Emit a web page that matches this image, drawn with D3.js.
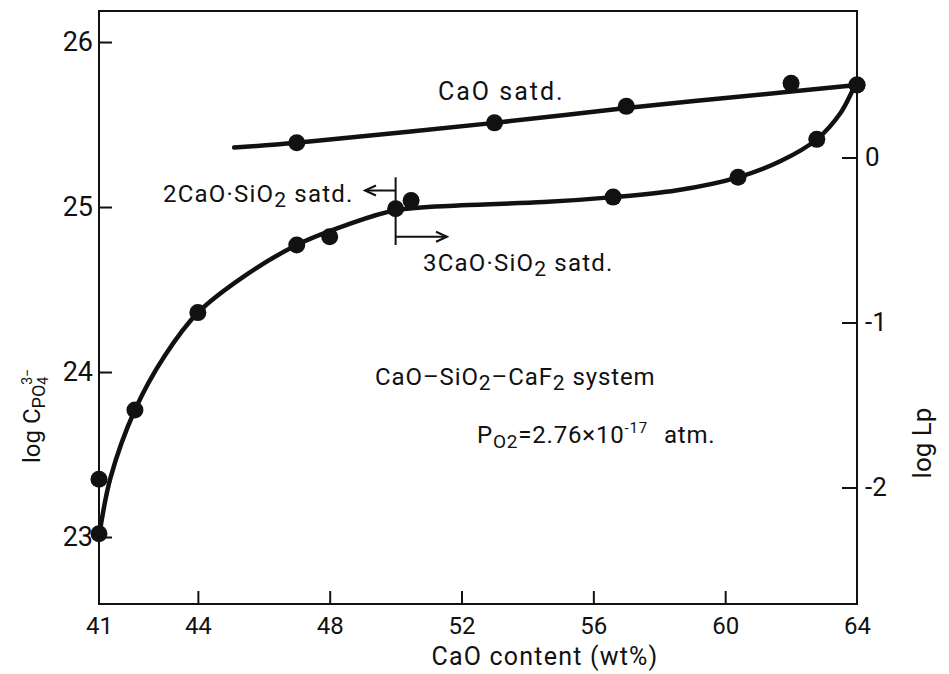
<!DOCTYPE html>
<html><head><meta charset="utf-8">
<script src="https://cdn.jsdelivr.net/npm/d3@7"></script>
<style>
body{margin:0;background:#fff}
text{font-family:Roboto,"Liberation Sans",sans-serif;fill:#111}
</style>
</head><body><svg id="c" width="949" height="674"></svg>
<script>
// ---- data ----
const xTicks = [41, 44, 48, 52, 56, 60, 64];
const leftTicks = [23, 24, 25, 26];
const rightTicks = [0, -1, -2];
const logLpOffset = 25.3; // log Lp = log C - offset

// CaO saturated series (points)
const caoSatdX = [47, 53, 57, 62, 64];
const caoSatdY = [25.39, 25.51, 25.61, 25.75, 25.74];
// CaO saturated fitted line
const caoSatdCurveX = [45.1, 47, 53, 57, 62, 64];
const caoSatdCurveY = [25.36, 25.39, 25.51, 25.60, 25.70, 25.74];

// lower series (2CaO.SiO2 / 3CaO.SiO2 saturated)
const lowerX = [41.0, 41.0, 42.09, 44.0, 47.0, 48.0, 50.0, 50.47, 56.6, 60.39, 62.78, 64];
const lowerY = [23.02, 23.35, 23.77, 24.36, 24.77, 24.82, 24.99, 25.04, 25.06, 25.18, 25.41, 25.74];
// lower fitted curve
const lowerCurveX = [41.0, 41.35, 42.09, 43.0, 44.0, 45.4, 47.0, 48.5, 50.0, 52.0, 54.5, 56.6, 58.5, 60.39, 61.7, 62.78, 63.5, 63.85, 64];
const lowerCurveY = [23.0, 23.36, 23.77, 24.1, 24.36, 24.58, 24.77, 24.89, 24.98, 25.01, 25.03, 25.06, 25.1, 25.18, 25.28, 25.41, 25.57, 25.7, 25.76];

// boundary annotation (x of boundary, y range, arrow levels and ends)
const boundaryX = 50;
const boundaryYRange = [24.77, 25.18];
const leftArrowY = 25.10, leftArrowEnd = 49.07;
const rightArrowY = 24.82, rightArrowEnd = 51.56;

// ---- layout ----
const L = 99, R = 857, T = 11, B = 604;
const yDom = [22.594, 26.188];
const x = d3.scaleLinear([41, 64], [L, R]);
const y = d3.scaleLinear(yDom, [B, T]);
const yR = d3.scaleLinear([yDom[0] - logLpOffset, yDom[1] - logLpOffset], [B, T]);

const svg = d3.select("#c");
const ink = "#111";

// frame
svg.append("rect").attr("x", L).attr("y", T).attr("width", R - L).attr("height", B - T)
  .attr("fill", "none").attr("stroke", ink).attr("stroke-width", 2);

// axes
const gx = svg.append("g").attr("transform", `translate(0,${B})`)
  .call(d3.axisBottom(x).tickValues(xTicks).tickSizeInner(-13).tickSizeOuter(0).tickPadding(13).tickFormat(d3.format("d")));
gx.selectAll("text").attr("font-size", 24);
const gl = svg.append("g").attr("transform", `translate(${L},0)`)
  .call(d3.axisLeft(y).tickValues(leftTicks).tickSizeInner(-13).tickSizeOuter(0).tickPadding(6).tickFormat(d3.format("d")));
gl.selectAll("text").attr("font-size", 27);
const gr = svg.append("g").attr("transform", `translate(${R},0)`)
  .call(d3.axisRight(yR).tickValues(rightTicks).tickSizeInner(-15).tickSizeOuter(0).tickPadding(8).tickFormat(d => d === 0 ? "0" : "-" + Math.abs(d)));
gr.selectAll("text").attr("font-size", 26);
[gx, gl, gr].forEach(g => {
  g.select(".domain").remove();
  g.selectAll(".tick line").attr("stroke", ink).attr("stroke-width", 2);
  g.selectAll("text").attr("fill", ink).attr("font-family", "Roboto, 'Liberation Sans', sans-serif");
});
gx.selectAll(".tick").filter(d => d === 41 || d === 64).select("line").remove();

// curves
const line = d3.line().x(d => x(d[0])).y(d => y(d[1])).curve(d3.curveCatmullRom.alpha(0.5));
svg.append("path").datum(caoSatdCurveX.map((v, i) => [v, caoSatdCurveY[i]]))
  .attr("d", line).attr("fill", "none").attr("stroke", ink).attr("stroke-width", 4.5).attr("stroke-linecap", "round");
svg.append("path").datum(lowerCurveX.map((v, i) => [v, lowerCurveY[i]]))
  .attr("d", line).attr("fill", "none").attr("stroke", ink).attr("stroke-width", 4.5).attr("stroke-linecap", "round");

// points
const pts = caoSatdX.map((v, i) => [v, caoSatdY[i]]).concat(lowerX.map((v, i) => [v, lowerY[i]]));
svg.append("g").selectAll("circle").data(pts).join("circle")
  .attr("cx", d => x(d[0])).attr("cy", d => y(d[1])).attr("r", 8.5).attr("fill", ink);

// boundary + arrows
const ann = svg.append("g").attr("stroke", ink).attr("stroke-width", 2).attr("fill", "none");
ann.append("line").attr("x1", x(boundaryX)).attr("x2", x(boundaryX)).attr("y1", y(boundaryYRange[0])).attr("y2", y(boundaryYRange[1]));
ann.append("line").attr("x1", x(boundaryX)).attr("x2", x(leftArrowEnd)).attr("y1", y(leftArrowY)).attr("y2", y(leftArrowY));
ann.append("path").attr("d", `M${x(leftArrowEnd) + 11},${y(leftArrowY) - 5}L${x(leftArrowEnd)},${y(leftArrowY)}L${x(leftArrowEnd) + 11},${y(leftArrowY) + 5}`);
ann.append("line").attr("x1", x(boundaryX)).attr("x2", x(rightArrowEnd)).attr("y1", y(rightArrowY)).attr("y2", y(rightArrowY));
ann.append("path").attr("d", `M${x(rightArrowEnd) - 11},${y(rightArrowY) - 5}L${x(rightArrowEnd)},${y(rightArrowY)}L${x(rightArrowEnd) - 11},${y(rightArrowY) + 5}`);

// labels
function label(px, py, size, ls, parts) {
  const t = svg.append("text").attr("x", px).attr("y", py).attr("font-size", size).attr("letter-spacing", ls);
  parts.forEach(p => {
    const s = t.append("tspan").text(p.t);
    if (p.dy !== undefined) s.attr("dy", p.dy);
    if (p.dx !== undefined) s.attr("dx", p.dx);
    if (p.size) s.attr("font-size", p.size);
  });
  return t;
}
label(438, 100, 25, 2, [{t: "CaO satd."}]);
label(163, 202, 24, 1.2, [{t: "2CaO·SiO"}, {t: "2", dy: 5, size: 21}, {t: " satd.", dy: -5}]);
label(423, 271, 24, 1.2, [{t: "3CaO·SiO"}, {t: "2", dy: 5, size: 21}, {t: " satd.", dy: -5}]);
label(375, 385, 24, 0.9, [{t: "CaO–SiO"}, {t: "2", dy: 5, size: 21}, {t: "–CaF", dy: -5}, {t: "2", dy: 5, size: 21}, {t: " system", dy: -5}]);
label(477, 443, 24, 0.8, [{t: "P"}, {t: "O", dy: 5, size: 19}, {t: "2", dy: 0, size: 19},
  {t: "=2.76×10", dy: -5}, {t: "-17", dy: -10, size: 15}, {t: "atm.", dy: 10, dx: 16}]);

// axis titles
svg.append("text").attr("x", 545).attr("y", 665).attr("text-anchor", "middle").attr("font-size", 25).attr("letter-spacing", 1.2).text("CaO content (wt%)");
const yl = svg.append("text").attr("transform", "translate(40,416) rotate(-90)").attr("text-anchor", "middle").attr("font-size", 24);
yl.append("tspan").text("log C");
yl.append("tspan").attr("dy", 5).attr("font-size", 18).text("PO");
yl.append("tspan").attr("dy", 3).attr("font-size", 14).text("4");
yl.append("tspan").attr("dx", -8).attr("dy", -16).attr("font-size", 14).text("3−");
svg.append("text").attr("transform", "translate(931,443) rotate(-90)").attr("text-anchor", "middle").attr("font-size", 26).text("log Lp");
</script>
</body></html>
